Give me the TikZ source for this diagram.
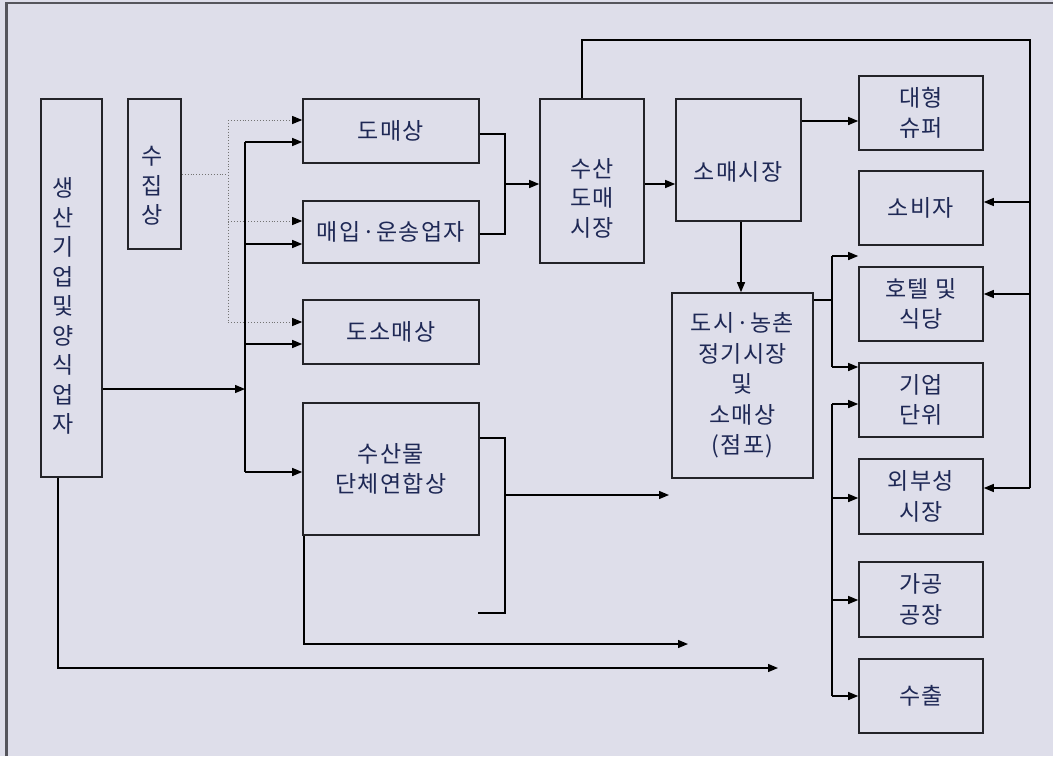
\documentclass[tikz,border=0pt]{standalone}
\usepackage{fontspec}
\newfontfamily\kr[LetterSpace=6]{Noto Sans CJK KR}
\usetikzlibrary{arrows.meta}
\definecolor{bg}{RGB}{222,222,234}
\definecolor{ink}{RGB}{30,40,85}
\definecolor{edge}{RGB}{35,35,40}
\definecolor{framec}{RGB}{85,85,92}
\begin{document}
\begin{tikzpicture}[x=1pt,y=-1pt,
  box/.style={draw=edge, line width=1.6pt, fill=bg, inner sep=0pt, text=ink, align=center,
    font=\kr\fontsize{23}{30.5}\selectfont},
  txt/.style={inner sep=0pt, text=ink, align=center, font=\kr\fontsize{23}{29.5}\selectfont},
  conn/.style={line width=1.3pt, draw=black},
  arr/.style={conn, -{Triangle[length=10pt,width=8pt]}},
  dotl/.style={line width=0.9pt, draw=black!55, dotted},
  darr/.style={dotl, -{Triangle[length=10pt,width=8pt,color=black]}}]
\useasboundingbox (0,0) rectangle (1053,756);
\fill[bg] (0,0) rectangle (1053,756);
\draw[framec, line width=2.5pt] (6.5,756) -- (6.5,3) -- (1053,3);

% boxes
\node[box, minimum width=61, minimum height=378] (prod) at (71.5,288) {};
\node[txt] (prodT) at (63,306) {생\\산\\기\\업\\및\\양\\식\\업\\자};
\node[box, minimum width=53, minimum height=150] (coll) at (154.5,174) {};
\node[txt] (collT) at (152,186) {수\\집\\상};
\node[box, minimum width=176, minimum height=64] (whole) at (391,131) {도매상};
\node[box, minimum width=176, minimum height=62] (buy) at (391,232) {매입·운송업자};
\node[box, minimum width=176, minimum height=64] (ws) at (391,332) {도소매상};
\node[box, minimum width=176, minimum height=132] (assoc) at (391,469) {수산물\\단체연합상};
\node[box, minimum width=104, minimum height=164] (fwm) at (592,181) {};
\node[txt] (fwmT) at (592,198) {수산\\도매\\시장};
\node[box, minimum width=125, minimum height=122] (ret) at (738.5,160) {};
\node[txt] (retT) at (738,172) {소매시장};
\node[box, minimum width=141, minimum height=185] (city) at (742.5,385.5) {도시·농촌\\정기시장\\및\\소매상\\(점포)};
\node[box, minimum width=124, minimum height=74] (super) at (921,113) {대형\\슈퍼};
\node[box, minimum width=124, minimum height=74] (cons) at (921,208) {소비자};
\node[box, minimum width=124, minimum height=74] (hotel) at (921,304) {호텔 및\\식당};
\node[box, minimum width=124, minimum height=74] (corp) at (921,400) {기업\\단위};
\node[box, minimum width=124, minimum height=75] (ext) at (921,496.5) {외부성\\시장};
\node[box, minimum width=124, minimum height=75] (proc) at (921,599.5) {가공\\공장};
\node[box, minimum width=124, minimum height=74] (exp) at (921,696) {수출};

% dotted links from collector
\coordinate (dm) at (228,174);
\coordinate (dt) at (228,120);
\coordinate (db2) at (228,221);
\coordinate (db) at (228,322);
\draw[dotl] (coll.east |- dm) -- (dm);
\draw[dotl] (dt) -- (db);
\draw[darr] (dt) -- (whole.west |- dt);
\draw[darr] (db2) -- (buy.west |- db2);
\draw[darr] (db) -- (ws.west |- db);

% producer bus
\coordinate (bt) at (245,142);
\coordinate (bj) at (245,389);
\coordinate (b2) at (245,244);
\coordinate (b3) at (245,344);
\coordinate (bb) at (245,472);
\draw[arr] (prod.east |- bj) -- (bj);
\draw[conn] (bt) -- (bb);
\draw[arr] (bt) -- (whole.west |- bt);
\draw[arr] (b2) -- (buy.west |- b2);
\draw[arr] (b3) -- (ws.west |- b3);
\draw[arr] (bb) -- (assoc.west |- bb);

% to fisheries wholesale market
\coordinate (j1) at (505,134);
\coordinate (j2) at (505,234);
\coordinate (j3) at (505,184);
\draw[conn] (whole.east |- j1) -- (j1) -- (j2) -- (buy.east |- j2);
\draw[arr] (j3) -- (fwm.west |- j3);
\draw[arr] (fwm.east |- j3) -- (ret.west |- j3);

% top loop
\coordinate (t1) at (582,40);
\coordinate (t2) at (1030,40);
\coordinate (t3) at (1030,488);
\coordinate (r1) at (1030,202);
\coordinate (r2) at (1030,294);
\draw[conn] (fwm.north -| t1) -- (t1) -- (t2) -- (t3);
\draw[arr] (r1) -- (cons.east |- r1);
\draw[arr] (r2) -- (hotel.east |- r2);
\draw[arr] (t3) -- (ext.east |- t3);

% retail market
\coordinate (s1) at (830,121);
\draw[arr] (ret.east |- s1) -- (super.west |- s1);
\coordinate (d1) at (741,250);
\draw[arr] (ret.south -| d1) -- (city.north -| d1);

% city market outputs
\coordinate (u0) at (832,300);
\coordinate (u1) at (832,256);
\coordinate (u2) at (832,367);
\draw[conn] (city.east |- u0) -- (u0);
\draw[conn] (u1) -- (u2);
\draw[arr] (u1) -- (hotel.west |- u1);
\draw[arr] (u2) -- (corp.west |- u2);

% lower bus
\coordinate (l1) at (832,404);
\coordinate (l2) at (832,498);
\coordinate (l3) at (832,600);
\coordinate (l4) at (832,696);
\draw[conn] (l1) -- (l4);
\draw[arr] (l1) -- (corp.west |- l1);
\draw[arr] (l2) -- (ext.west |- l2);
\draw[arr] (l3) -- (proc.west |- l3);
\draw[arr] (l4) -- (exp.west |- l4);

% association bracket
\coordinate (k1) at (505,438);
\coordinate (k2) at (505,613);
\coordinate (k3) at (478,613);
\coordinate (k4) at (505,495);
\coordinate (k5) at (669,495);
\draw[conn] (assoc.east |- k1) -- (k1) -- (k2) -- (k3);
\draw[arr] (k4) -- (k5);

% lower long arrows
\coordinate (m1) at (304,644);
\coordinate (m2) at (688,644);
\draw[arr] (assoc.south -| m1) -- (m1) -- (m2);
\coordinate (n1) at (58,668);
\coordinate (n2) at (778,668);
\draw[arr] (prod.south -| n1) -- (n1) -- (n2);
\end{tikzpicture}
\end{document}
